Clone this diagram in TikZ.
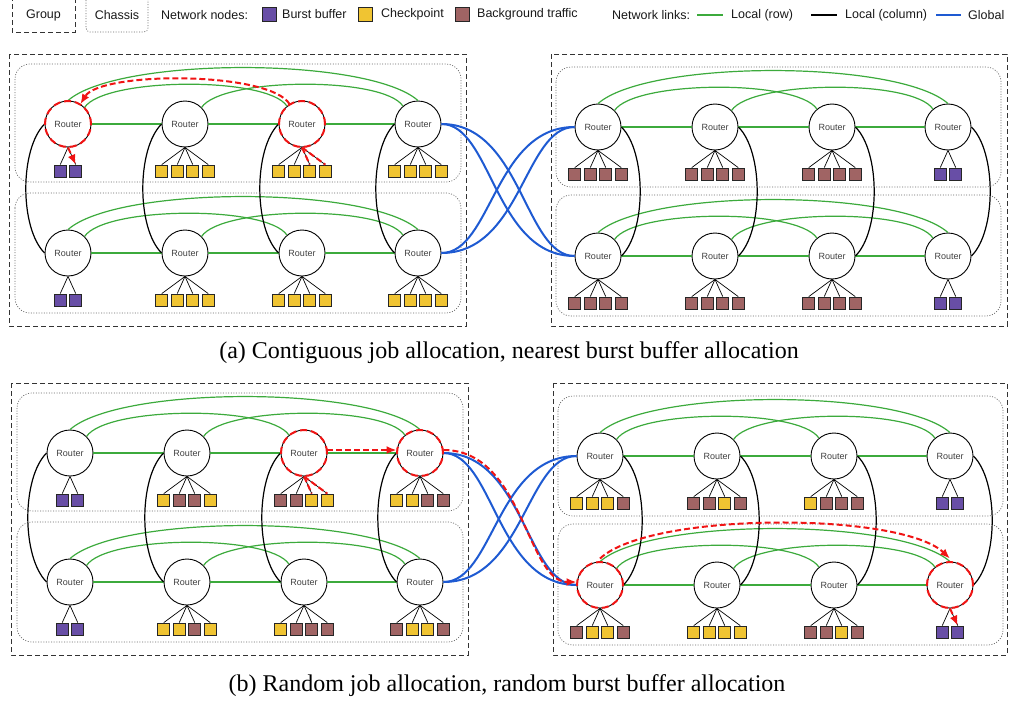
\documentclass[tikz,border=0pt]{standalone}
\usepackage{fontspec}
\setmainfont{Liberation Serif}
\setsansfont{Liberation Sans}
\usetikzlibrary{calc,arrows.meta}
\definecolor{cBB}{RGB}{104,78,166}
\definecolor{cCP}{RGB}{240,196,50}
\definecolor{cBG}{RGB}{160,100,100}
\definecolor{cRow}{RGB}{60,170,60}
\definecolor{cGlob}{RGB}{30,90,210}
\definecolor{cHl}{RGB}{240,20,20}
\tikzset{
  router/.style={circle, draw=black, line width=0.9pt, fill=white, minimum size=46pt, inner sep=0pt,
    font=\sffamily\fontsize{9}{10}\selectfont, text=black!75},
  leaf/.style={draw=black!85, line width=0.8pt, minimum size=12pt, inner sep=0pt},
  legleaf/.style={draw=black!85, line width=0.8pt, minimum size=14pt, inner sep=0pt},
  leafline/.style={draw=black, line width=0.7pt},
  rowlink/.style={draw=cRow, line width=1.2pt},
  collink/.style={draw=black, line width=1.2pt},
  globlink/.style={draw=cGlob, line width=2pt},
  groupbox/.style={draw=black!80, line width=1pt, dash pattern=on 5pt off 3pt},
  chassisbox/.style={draw=black!60, line width=0.7pt, dash pattern=on 1pt off 1.6pt, rounded corners=15pt},
  hlcirc/.style={draw=cHl, line width=2pt, dash pattern=on 7pt off 4pt},
  hlpath/.style={draw=cHl, line width=2pt, dash pattern=on 6pt off 3pt},
  hlarrow/.style={hlpath, -{Latex[length=10pt,width=8pt]}},
  legtext/.style={font=\sffamily\fontsize{12.5}{14}\selectfont, text=black!90, inner sep=0pt, anchor=west},
  captext/.style={font=\fontsize{24}{28}\selectfont, inner sep=0pt}
}
% leaves under a router: #1 router name, #2 list of colours
\newcommand\mkleaves[2]{%
  \foreach \c [count=\i] in {#2} {\xdef\nleaves{\i}}%
  \foreach \c [count=\i] in {#2} {%
    \node[leaf, fill=\c] (#1-l\i) at ($(#1)+({(\i-(\nleaves+1)/2)*15.5},47)$) {};
    \draw[leafline] (#1.south) -- (#1-l\i.north);
  }%
}
% links within one row of four routers
\newcommand\rowlinks[4]{%
  \draw[rowlink] (#1.east) -- (#2.west) (#2.east) -- (#3.west) (#3.east) -- (#4.west);
  \draw[rowlink] (#1.north) .. controls +(50,-44) and +(-50,-44) .. (#4.north);
  \draw[rowlink] (#1.45) .. controls +(20,-30) and +(-20,-30) .. (#3.130);
  \draw[rowlink] (#2.45) .. controls +(20,-30) and +(-20,-30) .. (#4.130);
}
% #1 prefix, #2 right edge of the right group
\newcommand\drawpanel[2]{%
  \draw[groupbox] (9,54) rectangle (466,326);
  \draw[groupbox] (551,54) rectangle (#2,326);
  \draw[chassisbox] (15,64) rectangle (461,182);
  \draw[chassisbox] (15,193) rectangle (461,313);
  \draw[chassisbox] (556,67) rectangle (1001,187);
  \draw[chassisbox] (556,195) rectangle (1001,316);
  \foreach \i/\x in {1/68,2/185,3/302,4/418} {
    \node[router] (#1L1\i) at (\x,124) {Router};
    \node[router] (#1L2\i) at (\x,253) {Router};
  }
  \foreach \i/\x in {1/598,2/715,3/832,4/948} {
    \node[router] (#1R1\i) at (\x,127) {Router};
    \node[router] (#1R2\i) at (\x,256) {Router};
  }
  \rowlinks{#1L11}{#1L12}{#1L13}{#1L14}
  \rowlinks{#1L21}{#1L22}{#1L23}{#1L24}
  \rowlinks{#1R11}{#1R12}{#1R13}{#1R14}
  \rowlinks{#1R21}{#1R22}{#1R23}{#1R24}
  \foreach \i in {1,2,3,4} {
    \draw[collink] (#1L1\i.west) .. controls +(-25,25) and +(-25,-25) .. (#1L2\i.west);
    \draw[collink] (#1R1\i.east) .. controls +(25,25) and +(25,-25) .. (#1R2\i.east);
  }
  \draw[globlink] (#1L14.east) .. controls +(50,0) and +(-80,0) .. (#1R21.west);
  \draw[globlink] (#1L14.east) .. controls +(80,0) and +(-50,0) .. (#1R21.west);
  \draw[globlink] (#1L24.east) .. controls +(50,0) and +(-80,0) .. (#1R11.west);
  \draw[globlink] (#1L24.east) .. controls +(80,0) and +(-50,0) .. (#1R11.west);
}
\begin{document}
\begin{tikzpicture}[x=1pt,y=-1pt]
\useasboundingbox (0,0) rectangle (1009,704);
% ---------- legend ----------
\draw[groupbox] (12,-4) rectangle (75,32);
\node[legtext, anchor=center] (lgGroup) at (43.5,15) {Group};
\draw[chassisbox, rounded corners=4pt] (86,-4) rectangle (148,32);
\node[legtext, anchor=center] (lgChassis) at (117,15) {Chassis};
\node[legtext] (lgNodes) at (161,15) {Network nodes:};
\node[legleaf, fill=cBB] (lgBB) at (269,14) {};
\node[legtext] (lgBBt) at (282,14) {Burst buffer};
\node[legleaf, fill=cCP] (lgCP) at (365.5,14) {};
\node[legtext] (lgCPt) at (381,14) {Checkpoint};
\node[legleaf, fill=cBG] (lgBG) at (462.5,14) {};
\node[legtext] (lgBGt) at (477,14) {Background traffic};
\node[legtext] (lgLinks) at (612,15) {Network links:};
\draw[cRow, line width=2pt] (697,15) -- (723,15);
\node[legtext] (lgRow) at (731,15) {Local (row)};
\draw[black, line width=2pt] (811,15) -- (837,15);
\node[legtext] (lgCol) at (845,15) {Local (column)};
\draw[cGlob, line width=2pt] (936,15) -- (961,15);
\node[legtext] (lgGlob) at (968,15) {Global};
% ---------- panel (a) ----------
\drawpanel{a}{1007}
\mkleaves{aL11}{cBB,cBB}
\mkleaves{aL12}{cCP,cCP,cCP,cCP}
\mkleaves{aL13}{cCP,cCP,cCP,cCP}
\mkleaves{aL14}{cCP,cCP,cCP,cCP}
\mkleaves{aL21}{cBB,cBB}
\mkleaves{aL22}{cCP,cCP,cCP,cCP}
\mkleaves{aL23}{cCP,cCP,cCP,cCP}
\mkleaves{aL24}{cCP,cCP,cCP,cCP}
\mkleaves{aR11}{cBG,cBG,cBG,cBG}
\mkleaves{aR12}{cBG,cBG,cBG,cBG}
\mkleaves{aR13}{cBG,cBG,cBG,cBG}
\mkleaves{aR14}{cBB,cBB}
\mkleaves{aR21}{cBG,cBG,cBG,cBG}
\mkleaves{aR22}{cBG,cBG,cBG,cBG}
\mkleaves{aR23}{cBG,cBG,cBG,cBG}
\mkleaves{aR24}{cBB,cBB}
% highlights (a)
\draw[hlcirc] (aL11.center) circle (23pt);
\draw[hlcirc] (aL13.center) circle (23pt);
\draw[hlarrow] (aL13.122) .. controls +(-20,-33) and +(20,-33) .. (aL11.58);
\draw[hlpath] (aL13.south) -- (aL13-l3.north);
\draw[hlpath] (aL13.south) -- (aL13-l4.north);
\draw[hlarrow] (aL11.south) -- (aL11-l2.north);
\node[captext] (capa) at (509,353) {(a) Contiguous job allocation, nearest burst buffer allocation};
% ---------- panel (b) ----------
\begin{scope}[shift={(2,329)}]
\drawpanel{b}{1005}
\end{scope}
\mkleaves{bL11}{cBB,cBB}
\mkleaves{bL12}{cCP,cBG,cBG,cCP}
\mkleaves{bL13}{cBG,cBG,cCP,cCP}
\mkleaves{bL14}{cCP,cCP,cBG,cBG}
\mkleaves{bL21}{cBB,cBB}
\mkleaves{bL22}{cCP,cCP,cBG,cCP}
\mkleaves{bL23}{cCP,cBG,cBG,cBG}
\mkleaves{bL24}{cBG,cCP,cCP,cBG}
\mkleaves{bR11}{cCP,cCP,cCP,cBG}
\mkleaves{bR12}{cBG,cBG,cCP,cBG}
\mkleaves{bR13}{cCP,cBG,cBG,cBG}
\mkleaves{bR14}{cBB,cBB}
\mkleaves{bR21}{cBG,cCP,cCP,cBG}
\mkleaves{bR22}{cCP,cCP,cCP,cCP}
\mkleaves{bR23}{cBG,cBG,cCP,cBG}
\mkleaves{bR24}{cBB,cBB}
% highlights (b)
\draw[hlcirc] (bL13.center) circle (23pt);
\draw[hlcirc] (bL14.center) circle (23pt);
\draw[hlcirc] (bR21.center) circle (23pt);
\draw[hlcirc] (bR24.center) circle (23pt);
\draw[hlpath] (bL13.south) -- (bL13-l3.north);
\draw[hlpath] (bL13.south) -- (bL13-l4.north);
\draw[hlarrow] ([yshift=3pt]bL13.east) -- ([yshift=3pt]bL14.west);
\draw[hlarrow] ([yshift=3pt]bL14.east) .. controls +(80,0) and +(-50,0) .. ([yshift=3pt]bR21.west);
\draw[hlarrow] ([yshift=3pt]bR21.north) .. controls +(50,-47) and +(-50,-47) .. ([yshift=3pt]bR24.north);
\draw[hlarrow] (bR24.south) -- (bR24-l2.north);
\node[captext] (capb) at (507,686) {(b) Random job allocation, random burst buffer allocation};
\end{tikzpicture}
\end{document}
